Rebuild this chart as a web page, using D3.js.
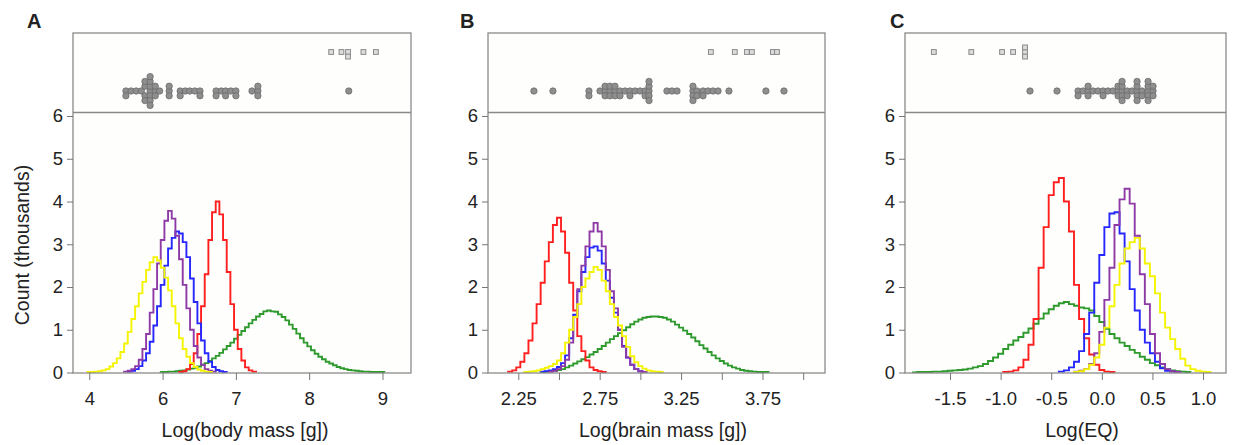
<!DOCTYPE html>
<html lang="en">
<head>
<meta charset="utf-8" />
<title>Posterior histograms: body mass, brain mass, EQ</title>
<style>
  body { margin: 0; background: #fff; }
  svg text { font-family: "Liberation Sans", Arial, sans-serif; fill: #222; }
  .plotbg { fill: #fefefc; }
  .frame { fill: none; stroke: #8a8a8a; stroke-width: 1.3px; }
  .hist { fill: none; stroke-width: 1.9px; }
  .axis path { display: none; }
  .axis line { stroke: #777; stroke-width: 1px; }
  .axis text { font-size: 18.5px; fill: #222; }
  .title { font-size: 19.5px; text-anchor: middle; }
  .letter { font-size: 20px; font-weight: bold; }
  .dot { fill: #8e8e8e; stroke: #666; stroke-width: 0.7px; }
  .sq { fill: #dcdcdc; stroke: #8a8a8a; stroke-width: 1px; }
</style>
<script src="https://cdn.jsdelivr.net/npm/d3@7"></script>
</head>
<body>
<script>
// ---------- data ----------
// y axis (thousands)
var yTicks = [0, 1, 2, 3, 4, 5, 6];

// Panel A: Log(body mass [g]) -- bins of 0.05, first bin edge given by *Start
var bodyTicks = [4, 5, 6, 7, 8];
var bodyTickLabels = ['4', '6', '7', '8', '9'];
var bodyBin = 0.05;
var bodyGreenStart = 4.975;
var bodyGreen = [0.01,0.01,0.02,0.02,0.03, 0.04,0.05,0.07,0.09,0.11, 0.14,0.18,0.22,0.27,0.33,
                 0.39,0.46,0.54,0.62,0.70, 0.79,0.88,0.97,1.06,1.15, 1.23,1.31,1.37,1.43,1.45,
                 1.43,1.42,1.36,1.30,1.22, 1.12,1.02,0.91,0.80,0.70, 0.61,0.52,0.44,0.37,0.31,
                 0.25,0.21,0.17,0.13,0.10, 0.08,0.06,0.05,0.04,0.03, 0.02,0.02,0.01,0.01,0.01, 0.01];
var bodyRedStart = 5.225;
var bodyRed = [0.01,0.03,0.08,0.20,0.45,0.90,1.55,2.30,3.10,3.75,4.00,3.70,3.10,2.35,1.60,1.00,0.55,0.28,0.12,0.05,0.02];
var bodyBlueStart = 4.525;
var bodyBlue = [0.02,0.04,0.08,0.15,0.28,0.45,0.72,1.10,1.55,2.05,2.50,2.90,3.15,3.30,3.25,3.05,2.70,2.20,1.65,1.15,0.75,0.45,0.25,0.13,0.06,0.03,0.01];
var bodyPurpleStart = 4.475;
var bodyPurple = [0.02,0.04,0.08,0.15,0.30,0.55,0.90,1.40,1.95,2.55,3.10,3.55,3.78,3.60,3.20,2.65,2.05,1.50,1.00,0.62,0.35,0.18,0.08,0.04,0.02];
var bodyYellowStart = 3.975;
var bodyYellow = [0.01,0.01,0.02,0.03,0.05,0.08,0.14,0.22,0.33,0.48,0.68,0.95,1.25,1.55,1.85,2.12,2.40,2.58,2.70,2.62,2.45,2.22,1.92,1.55,1.15,0.80,0.55,0.37,0.22,0.13,0.07,0.04,0.02,0.01];
var bodyCircles = [4.50,4.50,4.57,4.64,4.71,4.76,4.76,4.76,4.76,4.83,4.83,4.83,4.83,4.83,4.83,4.83,4.90,4.90,4.90,4.96,
                   5.09,5.09,5.09,5.24,5.24,5.31,5.37,5.44,5.51,5.51,5.73,5.73,5.80,5.86,5.86,5.93,6.00,6.00,6.22,6.30,6.30,6.30,7.54];
var bodySquares = [7.30,7.44,7.53,7.53,7.74,7.91];

// Panel B: Log(brain mass [g]) -- bins of 0.025
var brainTicks = [2.25, 2.5, 2.75, 3.0, 3.25, 3.5, 3.75, 4.0];
var brainTickLabels = ['2.25', '', '2.75', '', '3.25', '', '3.75', ''];
var brainBin = 0.025;
var brainGreenStart = 2.3875;
var brainGreen = [0.01,0.02,0.03,0.04,0.06,0.08,0.12,0.16,0.21,0.26, 0.31,0.36,0.42,0.48,0.55,0.62,0.70,0.78,0.85,0.92,
                  0.99,1.06,1.13,1.19,1.24,1.28,1.30,1.31,1.31,1.30, 1.28,1.24,1.19,1.12,1.05,0.98,0.90,0.82,0.73,0.64,
                  0.56,0.48,0.40,0.33,0.27,0.21,0.16,0.12,0.09,0.06, 0.04,0.03,0.02,0.01,0.01,0.01];
var brainRedStart = 2.1875;
var brainRed = [0.02,0.05,0.12,0.25,0.45,0.75,1.15,1.60,2.10,2.60,3.05,3.45,3.62,3.30,2.80,2.10,1.45,0.85,0.50,0.28,0.12,0.06,0.03,0.01];
var brainBlueStart = 2.3875;
var brainBlue = [0.02,0.03,0.05,0.08,0.13,0.22,0.40,0.80,1.35,1.90,2.35,2.70,2.92,2.95,2.85,2.55,2.15,1.75,1.40,1.00,0.62,0.35,0.18,0.08,0.03,0.01];
var brainPurpleStart = 2.4375;
var brainPurple = [0.02,0.04,0.08,0.15,0.30,0.70,1.30,1.95,2.50,2.95,3.30,3.50,3.30,2.95,2.40,1.90,1.50,1.00,0.60,0.35,0.18,0.08,0.03,0.01];
var brainYellowStart = 2.2875;
var brainYellow = [0.01,0.02,0.03,0.05,0.08,0.11,0.15,0.20,0.28,0.45,0.70,1.00,1.30,1.60,2.00,2.20,2.35,2.47,2.40,2.15,
                   1.90,1.60,1.30,1.10,0.85,0.60,0.38,0.24,0.15,0.09,0.05,0.03,0.02,0.01];
var brainCircles = [2.346,2.463,2.684,2.684,2.752,2.783,2.783,2.783,2.813,2.813,2.813,2.844,2.844,2.844,2.875,2.875,2.906,
                    2.936,2.936,2.967,2.998,3.029,3.029,3.053,3.053,3.053,3.053,3.053,3.163,3.194,3.225,
                    3.323,3.323,3.323,3.323,3.348,3.348,3.385,3.385,3.415,3.446,3.477,3.544,3.771,3.882];
var brainSquares = [3.433,3.580,3.654,3.685,3.814,3.839];

// Panel C: Log(EQ) -- bins of 0.05
var eqTicks = [-1.5, -1.0, -0.5, 0.0, 0.5, 1.0];
var eqTickLabels = ['-1.5', '-1.0', '-0.5', '0.0', '0.5', '1.0'];
var eqBin = 0.05;
var eqGreenStart = -1.875;
var eqGreen = [0.00,0.01,0.01,0.01,0.02,0.02,0.03,0.04,0.05,0.06, 0.07,0.09,0.12,0.15,0.20,0.27,0.35,0.44,0.55,0.65,
               0.75,0.83,0.93,1.03,1.14,1.26,1.38,1.48,1.56,1.62, 1.65,1.60,1.56,1.52,1.50,1.45,1.32,1.18,1.02,0.90,
               0.80,0.70,0.62,0.53,0.46,0.37,0.30,0.22,0.17,0.12, 0.08,0.05,0.03,0.02,0.01];
var eqRedStart = -0.975;
var eqRed = [0.01,0.02,0.05,0.12,0.30,0.65,1.25,2.45,3.40,4.15,4.45,4.55,4.00,3.30,2.05,1.25,0.80,0.42,0.18,0.06,0.02,0.01];
var eqBlueStart = -0.425;
var eqBlue = [0.02,0.05,0.12,0.25,0.50,0.90,1.40,2.10,2.75,3.40,3.72,3.75,3.25,2.60,1.95,1.45,1.00,0.70,0.45,0.25,0.10,0.04,0.02,0.01];
var eqPurpleStart = -0.275;
var eqPurple = [0.02,0.04,0.08,0.20,0.45,0.95,1.70,2.45,3.45,4.05,4.30,3.95,3.20,2.30,1.60,0.90,0.45,0.20,0.08,0.03,0.01];
var eqYellowStart = -0.275;
var eqYellow = [0.01,0.03,0.08,0.18,0.35,0.65,1.05,1.55,2.05,2.55,2.90,3.05,3.15,2.90,2.55,2.25,1.85,1.40,1.05,0.78,0.55,0.32,0.16,0.08,0.04,0.02,0.01];
var eqCircles = [-0.710,-0.443,-0.235,-0.235,-0.186,-0.136,-0.136,-0.136,-0.087,-0.038,0.012,0.012,0.061,0.111,
                 0.160,0.160,0.160,0.200,0.200,0.200,0.200,0.200,0.250,0.250,0.298,0.348,0.348,0.348,0.348,0.348,
                 0.397,0.397,0.457,0.457,0.457,0.457,0.457,0.506,0.506,0.506];
var eqSquares = [-1.660,-1.290,-0.986,-0.877,-0.759,-0.759,-0.759];

// ---------- layout ----------
var width = 1241, height = 445;
var stripTop = 33, stripBottom = 112.5, plotBottom = 373;
var colors = { green: '#2e9a2e', red: '#ff1f1f', blue: '#2626ff', purple: '#8e3aa6', yellow: '#f4f400' };
var order = ['green', 'red', 'blue', 'purple', 'yellow'];

var panels = [
    { letter: 'A', letterX: 27, left: 73, right: 411, domain: [3.778, 8.389], titleX: 245,
      title: 'Log(body mass [g])', ticks: bodyTicks, labels: bodyTickLabels, bin: bodyBin,
      series: { green: [bodyGreenStart, bodyGreen], red: [bodyRedStart, bodyRed], blue: [bodyBlueStart, bodyBlue],
                purple: [bodyPurpleStart, bodyPurple], yellow: [bodyYellowStart, bodyYellow] },
      circles: bodyCircles, squares: bodySquares },
    { letter: 'B', letterX: 460, left: 488, right: 825, domain: [2.064, 4.134], titleX: 663,
      title: 'Log(brain mass [g])', ticks: brainTicks, labels: brainTickLabels, bin: brainBin,
      series: { green: [brainGreenStart, brainGreen], red: [brainRedStart, brainRed], blue: [brainBlueStart, brainBlue],
                purple: [brainPurpleStart, brainPurple], yellow: [brainYellowStart, brainYellow] },
      circles: brainCircles, squares: brainSquares },
    { letter: 'C', letterX: 890, left: 905, right: 1226, domain: [-1.945, 1.227], titleX: 1082,
      title: 'Log(EQ)', ticks: eqTicks, labels: eqTickLabels, bin: eqBin,
      series: { green: [eqGreenStart, eqGreen], red: [eqRedStart, eqRed], blue: [eqBlueStart, eqBlue],
                purple: [eqPurpleStart, eqPurple], yellow: [eqYellowStart, eqYellow] },
      circles: eqCircles, squares: eqSquares }
];

var svg = d3.select('body').append('svg')
    .attr('width', width)
    .attr('height', height);

var y = d3.scaleLinear().domain([0, 6]).range([372.5, 116]);

// simple beeswarm: keep x, push overlapping marks up/down in steps of `step`
// marks closer than `minDist` count as overlapping
function swarm(values, x, step, minDist) {
    var placed = [];
    values.slice().sort(d3.ascending).forEach(function(v) {
        var px = x(v), dy = 0;
        for (var k = 0; k < 40; k++) {
            var cand = k === 0 ? 0 : (k % 2 ? 1 : -1) * Math.ceil(k / 2) * step;
            var ok = placed.every(function(p) { return Math.hypot(p.x - px, p.dy - cand) >= minDist; });
            if (ok) { dy = cand; break; }
        }
        placed.push({ x: px, dy: dy });
    });
    return placed;
}

panels.forEach(function(p, pi) {
    var x = d3.scaleLinear().domain(p.domain).range([p.left, p.right]);
    var g = svg.append('g');

    g.append('rect').attr('class', 'plotbg')
        .attr('x', p.left).attr('y', stripTop)
        .attr('width', p.right - p.left).attr('height', plotBottom - stripTop);

    var clipId = 'clip' + pi;
    svg.append('clipPath').attr('id', clipId)
        .append('rect').attr('x', p.left).attr('y', stripBottom)
        .attr('width', p.right - p.left).attr('height', plotBottom - stripBottom);

    // step histograms
    var line = d3.line()
        .x(function(d) { return x(d[0]); })
        .y(function(d) { return y(d[1]); })
        .curve(d3.curveStepAfter);

    order.forEach(function(name) {
        var start = p.series[name][0], counts = p.series[name][1];
        var pts = [[start, 0]];
        counts.forEach(function(c, i) { pts.push([start + i * p.bin, c]); });
        var end = start + counts.length * p.bin;
        pts.push([end, counts[counts.length - 1]]);
        pts.push([end, 0]);
        g.append('path').attr('class', 'hist')
            .attr('clip-path', 'url(#' + clipId + ')')
            .attr('stroke', colors[name])
            .attr('d', line(pts));
    });

    // strip of point estimates
    swarm(p.circles, x, 4.8, 3.9).forEach(function(d) {
        g.append('circle').attr('class', 'dot')
            .attr('cx', d.x).attr('cy', 91 + d.dy).attr('r', 3.2);
    });
    swarm(p.squares, x, 4.6, 3.9).forEach(function(d) {
        g.append('rect').attr('class', 'sq')
            .attr('x', d.x - 2.4).attr('y', 52 + d.dy - 2.4)
            .attr('width', 4.8).attr('height', 4.8);
    });

    // frame and divider
    g.append('rect').attr('class', 'frame')
        .attr('x', p.left).attr('y', stripTop)
        .attr('width', p.right - p.left).attr('height', plotBottom - stripTop);
    g.append('line').attr('class', 'frame')
        .attr('x1', p.left).attr('x2', p.right)
        .attr('y1', stripBottom).attr('y2', stripBottom);

    // axes
    g.append('g').attr('class', 'axis')
        .attr('transform', 'translate(0,' + plotBottom + ')')
        .call(d3.axisBottom(x).tickValues(p.ticks)
            .tickFormat(function(d, i) { return p.labels[i]; })
            .tickSize(7).tickPadding(12));
    g.append('g').attr('class', 'axis')
        .attr('transform', 'translate(' + p.left + ',0)')
        .call(d3.axisLeft(y).tickValues(yTicks).tickFormat(d3.format('d'))
            .tickSize(6).tickPadding(4));

    g.append('text').attr('class', 'title')
        .attr('x', p.titleX).attr('y', 437)
        .text(p.title);
    g.append('text').attr('class', 'letter')
        .attr('x', p.letterX).attr('y', 28)
        .text(p.letter);
});

svg.append('text').attr('class', 'title')
    .attr('transform', 'translate(29,245) rotate(-90)')
    .text('Count (thousands)');
</script>
</body>
</html>
